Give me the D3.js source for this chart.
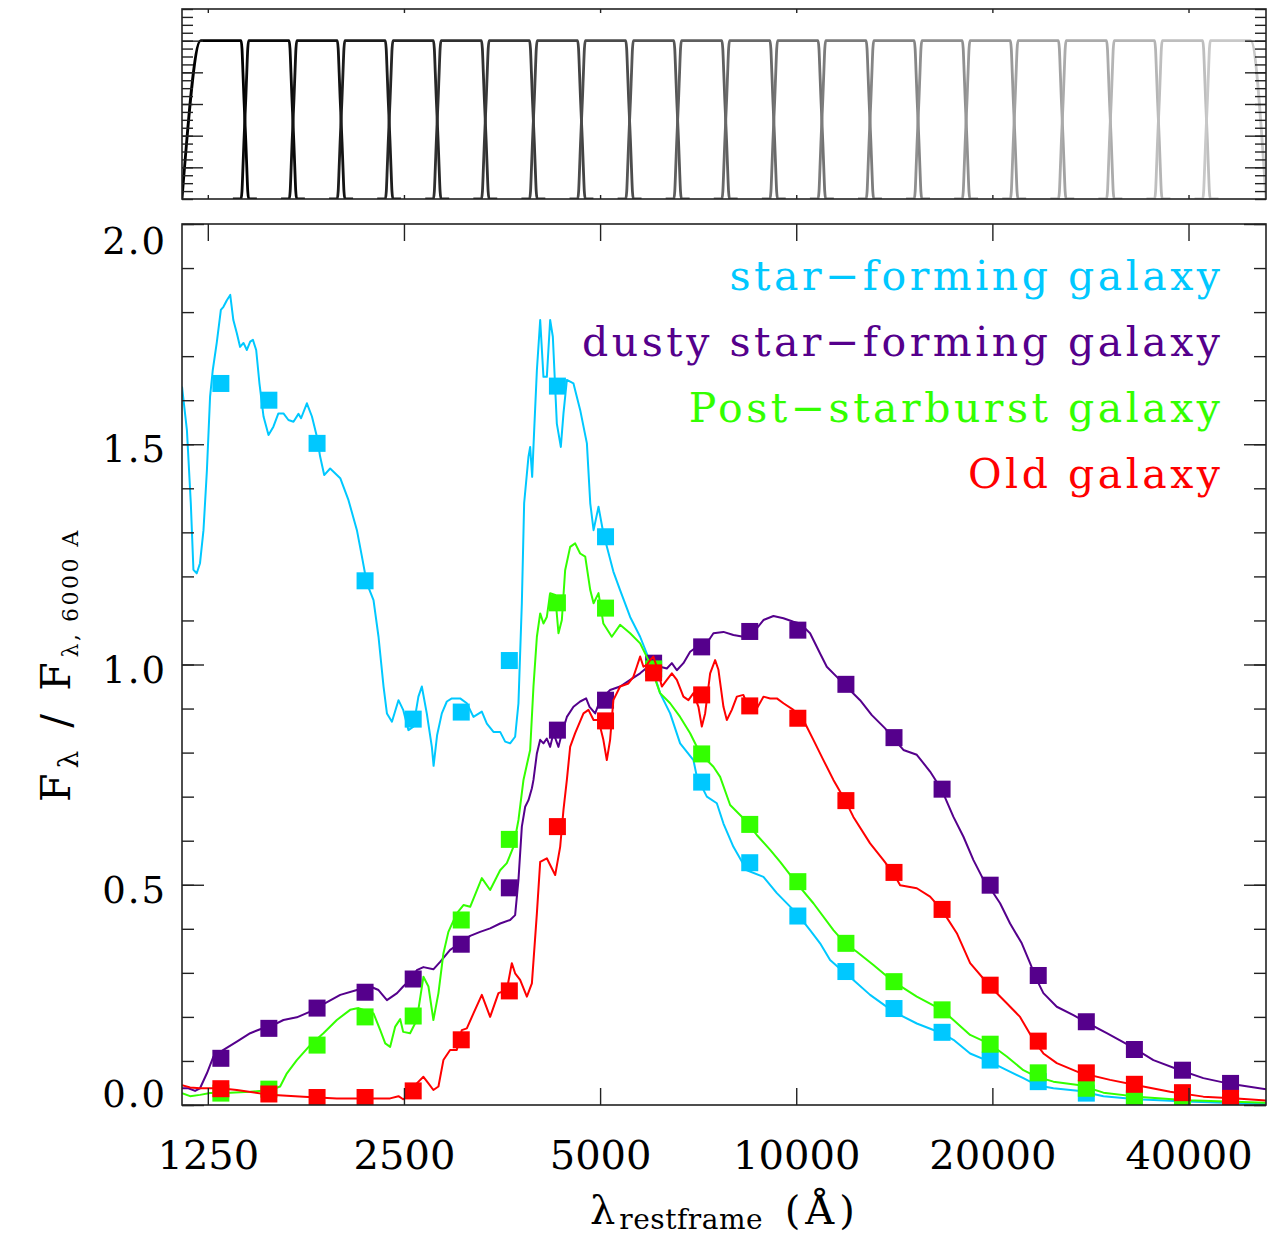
<!DOCTYPE html>
<html>
<head>
<meta charset="utf-8">
<script src="https://cdn.jsdelivr.net/npm/d3@7"></script>
<style>
  body { margin: 0; background: #fff; }
  svg { display: block; }
</style>
</head>
<body>
<svg id="vis"></svg>
<script>
// tick values
const wavelengthTicks = [1250, 2500, 5000, 10000, 20000, 40000];
const fluxMajorTicks = [0, 0.5, 1.0, 1.5, 2.0];
const fluxMinorTicks = d3.range(0, 2.001, 0.1);
const transMajorTicks = [0.2, 0.4, 0.6, 0.8, 1.0];
const transMinorTicks = d3.range(0, 1.201, 0.05);

// filter set (central wavelength, A)
const filterCenters = [1309, 1551, 1839, 2179, 2583, 3061, 3628, 4300, 5097, 6041, 7159,
  8485, 10057, 11919, 14127, 16743, 19844, 23519, 27875, 33037, 39156, 46407];
// transmission profile, offset in units of half the (log) filter spacing
const filterProfile = [[-1.5, 0], [-1.16, 0], [-1.12, 0.05], [-1.08, 0.2], [-1.04, 0.36], [-1, 0.5],
  [-0.96, 0.64], [-0.92, 0.8], [-0.88, 0.95], [-0.84, 1], [0.84, 1], [0.88, 0.95], [0.92, 0.8],
  [0.96, 0.64], [1, 0.5], [1.04, 0.36], [1.08, 0.2], [1.12, 0.05], [1.16, 0], [1.5, 0]];

// spectra [wavelength, F / F(6000)]
const starFormingSpec = [[1141,1.631],[1161,1.532],[1177,1.367],[1188,1.215],[1202,1.207],[1216,1.230],[1231,1.305],[1246,1.441],[1260,1.608],[1272,1.668],[1290,1.730],[1309,1.805],[1321,1.812],[1337,1.827],[1353,1.839],[1368,1.782],[1385,1.752],[1401,1.721],[1418,1.730],[1435,1.714],[1452,1.733],[1466,1.737],[1483,1.714],[1500,1.639],[1522,1.563],[1549,1.521],[1576,1.540],[1604,1.570],[1633,1.570],[1662,1.555],[1692,1.551],[1722,1.569],[1738,1.559],[1774,1.593],[1806,1.563],[1838,1.517],[1859,1.472],[1886,1.430],[1926,1.445],[1996,1.423],[2055,1.373],[2117,1.305],[2155,1.245],[2193,1.184],[2245,1.146],[2285,1.063],[2326,0.950],[2354,0.889],[2396,0.870],[2452,0.919],[2493,0.897],[2540,0.851],[2585,0.859],[2631,0.927],[2663,0.950],[2710,0.889],[2759,0.813],[2776,0.770],[2811,0.840],[2858,0.889],[2909,0.916],[2961,0.923],[3049,0.923],[3122,0.912],[3196,0.881],[3292,0.893],[3351,0.866],[3430,0.847],[3512,0.847],[3575,0.825],[3638,0.821],[3703,0.836],[3747,0.912],[3792,1.139],[3823,1.366],[3882,1.472],[3905,1.494],[3933,1.426],[3961,1.532],[3999,1.668],[4046,1.782],[4093,1.653],[4142,1.653],[4191,1.782],[4231,1.744],[4291,1.547],[4352,1.494],[4393,1.570],[4446,1.646],[4551,1.638],[4660,1.578],[4772,1.502],[4829,1.366],[4886,1.305],[4972,1.358],[5058,1.298],[5240,1.211],[5366,1.169],[5560,1.108],[5760,1.063],[5966,1.006],[6181,0.935],[6404,0.889],[6634,0.821],[6954,0.783],[7039,0.745],[7291,0.700],[7553,0.685],[7732,0.639],[8009,0.586],[8398,0.533],[8906,0.518],[9338,0.481],[10019,0.435],[10501,0.397],[10880,0.367],[11271,0.329],[11884,0.299],[12238,0.284],[12983,0.250],[14100,0.212],[15313,0.185],[16729,0.163],[17429,0.148],[18489,0.117],[19844,0.098],[21044,0.079],[22316,0.061],[23398,0.045],[24814,0.038],[27270,0.032],[29612,0.020],[33322,0.013],[39766,0.008],[47440,0.004],[52600,0.002]];

const dustySpec = [[1141,0.038],[1167,0.038],[1195,0.032],[1216,0.038],[1246,0.072],[1275,0.110],[1321,0.125],[1385,0.144],[1452,0.163],[1504,0.172],[1558,0.178],[1633,0.193],[1712,0.199],[1795,0.212],[1881,0.229],[1996,0.250],[2117,0.261],[2219,0.269],[2285,0.261],[2354,0.238],[2440,0.254],[2493,0.269],[2555,0.284],[2616,0.306],[2678,0.313],[2774,0.308],[2841,0.325],[2943,0.352],[3049,0.367],[3159,0.384],[3272,0.393],[3390,0.401],[3512,0.412],[3638,0.420],[3703,0.431],[3747,0.511],[3792,0.632],[3837,0.677],[3882,0.692],[3929,0.719],[3951,0.738],[3999,0.798],[4046,0.829],[4093,0.821],[4142,0.832],[4191,0.813],[4240,0.844],[4316,0.813],[4368,0.844],[4446,0.881],[4551,0.904],[4660,0.916],[4759,0.923],[4817,0.904],[4914,0.889],[5000,0.919],[5180,0.942],[5366,0.950],[5560,0.965],[5760,0.980],[5966,0.999],[6181,0.995],[6330,0.991],[6443,1.003],[6558,0.987],[6712,1.003],[6873,1.029],[7039,1.040],[7204,1.037],[7463,1.071],[7732,1.074],[8009,1.067],[8295,1.063],[8497,1.063],[8698,1.082],[8906,1.101],[9226,1.110],[9558,1.105],[9902,1.097],[10137,1.093],[10501,1.071],[10880,1.025],[11140,0.995],[11542,0.972],[11884,0.953],[12531,0.919],[13061,0.885],[13690,0.855],[14100,0.832],[14605,0.806],[15313,0.795],[16048,0.757],[16729,0.715],[17429,0.654],[18057,0.609],[18706,0.556],[19386,0.511],[19844,0.492],[20552,0.458],[21292,0.412],[22190,0.367],[22850,0.322],[23398,0.284],[23952,0.254],[25112,0.223],[26632,0.204],[27756,0.189],[29968,0.163],[32738,0.132],[35336,0.102],[38846,0.079],[42152,0.061],[46328,0.048],[52600,0.036]];

const postStarburstSpec = [[1141,0.027],[1174,0.020],[1216,0.023],[1260,0.027],[1353,0.028],[1452,0.030],[1558,0.034],[1614,0.042],[1653,0.072],[1712,0.102],[1795,0.136],[1881,0.163],[1972,0.193],[2067,0.216],[2129,0.220],[2245,0.208],[2299,0.170],[2340,0.140],[2381,0.132],[2424,0.178],[2467,0.195],[2493,0.166],[2555,0.163],[2616,0.193],[2678,0.291],[2726,0.269],[2774,0.193],[2824,0.254],[2874,0.344],[2925,0.393],[3013,0.435],[3085,0.454],[3159,0.450],[3292,0.515],[3390,0.488],[3512,0.533],[3596,0.549],[3681,0.586],[3747,0.647],[3814,0.738],[3905,0.806],[3951,0.950],[3999,1.063],[4046,1.116],[4093,1.093],[4142,1.108],[4191,1.162],[4266,1.158],[4316,1.071],[4368,1.101],[4419,1.214],[4498,1.267],[4578,1.275],[4660,1.252],[4744,1.245],[4829,1.169],[4886,1.139],[4972,1.162],[5058,1.093],[5211,1.063],[5366,1.090],[5560,1.071],[5760,1.048],[5931,1.010],[6181,0.935],[6404,0.912],[6634,0.881],[6873,0.844],[7121,0.798],[7463,0.768],[7642,0.745],[7917,0.681],[8295,0.651],[8698,0.613],[9120,0.579],[9448,0.552],[10019,0.503],[10625,0.458],[11404,0.397],[11884,0.367],[12387,0.348],[13136,0.318],[14100,0.280],[15313,0.246],[16729,0.216],[17429,0.193],[18489,0.159],[19844,0.138],[21044,0.110],[22316,0.079],[23398,0.064],[24814,0.053],[27270,0.045],[29612,0.028],[33322,0.019],[39766,0.011],[52600,0.005]];

const oldSpec = [[1141,0.045],[1174,0.040],[1216,0.038],[1306,0.038],[1385,0.034],[1558,0.023],[1753,0.019],[1972,0.015],[2219,0.015],[2381,0.015],[2452,0.020],[2493,0.013],[2555,0.023],[2616,0.049],[2678,0.064],[2726,0.049],[2774,0.034],[2824,0.042],[2874,0.102],[2943,0.125],[3013,0.125],[3067,0.170],[3122,0.174],[3196,0.208],[3292,0.250],[3390,0.200],[3491,0.254],[3596,0.261],[3660,0.322],[3703,0.299],[3769,0.284],[3860,0.246],[3929,0.276],[3999,0.435],[4046,0.552],[4142,0.560],[4191,0.545],[4266,0.522],[4342,0.586],[4393,0.670],[4446,0.738],[4498,0.813],[4578,0.844],[4715,0.889],[4799,0.897],[4886,0.874],[4972,0.874],[5058,0.829],[5120,0.783],[5180,0.829],[5240,0.919],[5366,0.950],[5526,0.957],[5624,0.972],[5692,0.995],[5760,1.018],[5828,0.995],[5898,0.999],[5966,1.010],[6036,1.018],[6109,0.995],[6219,0.950],[6330,0.965],[6443,0.980],[6558,0.965],[6712,0.927],[6832,0.919],[6954,0.935],[7078,0.904],[7163,0.859],[7247,0.889],[7377,0.980],[7508,1.010],[7596,0.988],[7732,0.904],[7825,0.874],[7964,0.897],[8107,0.927],[8295,0.931],[8497,0.893],[8648,0.893],[8906,0.927],[9120,0.923],[9338,0.923],[9558,0.912],[9902,0.897],[10256,0.874],[10625,0.829],[11008,0.783],[11404,0.738],[11884,0.692],[12238,0.654],[12983,0.594],[13609,0.556],[14100,0.526],[14436,0.499],[15313,0.492],[16048,0.473],[16729,0.443],[17639,0.390],[18489,0.322],[19844,0.269],[21044,0.231],[22056,0.200],[23120,0.148],[23952,0.117],[25112,0.095],[27270,0.073],[30316,0.057],[33322,0.045],[37484,0.030],[42152,0.019],[47440,0.015],[52600,0.010]];

// synthetic photometry in each filter
const starFormingPhot = [1.638, 1.600, 1.502, 1.190, 0.876, 0.892, 1.009, 1.632, 1.290, 0.990, 0.733, 0.550, 0.429, 0.303, 0.219, 0.165, 0.102, 0.053, 0.027, 0.012, 0.006, 0.003];
const dustyPhot = [0.106, 0.174, 0.220, 0.256, 0.286, 0.365, 0.493, 0.851, 0.919, 1.003, 1.040, 1.075, 1.078, 0.955, 0.834, 0.717, 0.499, 0.294, 0.189, 0.126, 0.079, 0.049];
const postStarburstPhot = [0.027, 0.036, 0.136, 0.200, 0.202, 0.420, 0.603, 1.140, 1.128, 0.990, 0.797, 0.637, 0.507, 0.367, 0.280, 0.216, 0.138, 0.073, 0.038, 0.015, 0.009, 0.005];
const oldPhot = [0.037, 0.025, 0.017, 0.017, 0.032, 0.148, 0.259, 0.632, 0.872, 0.981, 0.931, 0.906, 0.878, 0.691, 0.528, 0.444, 0.272, 0.145, 0.073, 0.047, 0.028, 0.015];

const legendLabels = ['star\u2212forming galaxy', 'dusty star\u2212forming galaxy', 'Post\u2212starburst galaxy', 'Old galaxy'];
const seriesColors = ['#00c8ff', '#55008c', '#33ff00', '#ff0000'];

const width = 1279, height = 1236;
const font = "'DejaVu Serif', 'Liberation Serif', serif";
const axisColor = '#222';

const svg = d3.select('#vis').attr('width', width).attr('height', height);

const x = d3.scaleLog().domain([1141, 52600]).range([182, 1266]);
const yTop = d3.scaleLinear().domain([0, 1.2]).range([199, 9]);
const y = d3.scaleLinear().domain([0, 2]).range([1105, 224]);

const defs = svg.append('defs');
defs.append('clipPath').attr('id', 'clipTop').append('rect')
  .attr('x', 182).attr('y', 9).attr('width', 1084).attr('height', 190);
defs.append('clipPath').attr('id', 'clipMain').append('rect')
  .attr('x', 182).attr('y', 224).attr('width', 1084).attr('height', 881);

// ---------- top panel: filter curves ----------
const logHalf = Math.log(filterCenters[1] / filterCenters[0]) / 2;
const grey = d3.interpolateRgb('#000000', '#c8c8c8');
const filterLine = d3.line().x(d => x(d[0])).y(d => yTop(d[1])).curve(d3.curveMonotoneX);
const topG = svg.append('g').attr('clip-path', 'url(#clipTop)');
filterCenters.forEach((c, i) => {
  let prof = filterProfile;
  if (i === 0) prof = [[null, 0]].concat(prof.filter(([u, t]) => !(u < 0 && t < 1)));
  if (i === filterCenters.length - 1) prof = prof.filter(([u, t]) => !(u > 0 && t < 1)).concat([[null, 0]]);
  const pts = prof.map(([u, t], j) => {
    if (u === null) return [j === 0 ? x.domain()[0] : x.domain()[1], t];
    return [c * Math.exp(u * logHalf), t];
  });
  topG.append('path').attr('d', filterLine(pts)).attr('fill', 'none')
    .attr('stroke', grey(i / (filterCenters.length - 1))).attr('stroke-width', 2.8)
    .attr('stroke-linejoin', 'round');
});

function cleanAxis(g) {
  g.select('.domain').remove();
  g.selectAll('line').attr('stroke', axisColor).attr('stroke-width', 1.4);
}

// top panel axes
svg.append('g').attr('transform', 'translate(182,0)')
  .call(d3.axisLeft(yTop).tickValues(transMinorTicks).tickSizeInner(-11).tickSizeOuter(0).tickFormat(''))
  .call(cleanAxis);
svg.append('g').attr('transform', 'translate(182,0)')
  .call(d3.axisLeft(yTop).tickValues(transMajorTicks).tickSizeInner(-21).tickSizeOuter(0).tickFormat(''))
  .call(cleanAxis);
svg.append('g').attr('transform', 'translate(1266,0)')
  .call(d3.axisRight(yTop).tickValues(transMinorTicks).tickSizeInner(-11).tickSizeOuter(0).tickFormat(''))
  .call(cleanAxis);
svg.append('g').attr('transform', 'translate(1266,0)')
  .call(d3.axisRight(yTop).tickValues(transMajorTicks).tickSizeInner(-21).tickSizeOuter(0).tickFormat(''))
  .call(cleanAxis);
svg.append('g').attr('transform', 'translate(0,9)')
  .call(d3.axisTop(x).tickValues(wavelengthTicks).tickSizeInner(-4).tickSizeOuter(0).tickFormat(''))
  .call(cleanAxis);
svg.append('g').attr('transform', 'translate(0,199)')
  .call(d3.axisBottom(x).tickValues(wavelengthTicks).tickSizeInner(-4).tickSizeOuter(0).tickFormat(''))
  .call(cleanAxis);
svg.append('rect').attr('x', 182).attr('y', 9).attr('width', 1084).attr('height', 190)
  .attr('fill', 'none').attr('stroke', axisColor).attr('stroke-width', 1.6);

// ---------- main panel ----------
const main = svg.append('g').attr('clip-path', 'url(#clipMain)');
const specLine = d3.line().x(d => x(d[0])).y(d => y(d[1]));
const series = [
  {spec: starFormingSpec, phot: starFormingPhot, color: seriesColors[0]},
  {spec: dustySpec, phot: dustyPhot, color: seriesColors[1]},
  {spec: postStarburstSpec, phot: postStarburstPhot, color: seriesColors[2]},
  {spec: oldSpec, phot: oldPhot, color: seriesColors[3]}
];
const sq = 17;
series.forEach(s => {
  main.append('path').attr('d', specLine(s.spec)).attr('fill', 'none')
    .attr('stroke', s.color).attr('stroke-width', 2).attr('stroke-linejoin', 'round');
  main.selectAll(null).data(s.phot).enter().append('rect')
    .attr('x', (d, i) => x(filterCenters[i]) - sq / 2)
    .attr('y', d => y(d) - sq / 2)
    .attr('width', sq).attr('height', sq)
    .attr('fill', s.color);
});

// main axes: ticks
svg.append('g').attr('transform', 'translate(182,0)')
  .call(d3.axisLeft(y).tickValues(fluxMinorTicks).tickSizeInner(-12).tickSizeOuter(0).tickFormat(''))
  .call(cleanAxis);
svg.append('g').attr('transform', 'translate(1266,0)')
  .call(d3.axisRight(y).tickValues(fluxMinorTicks).tickSizeInner(-12).tickSizeOuter(0).tickFormat(''))
  .call(cleanAxis);
svg.append('g').attr('transform', 'translate(1266,0)')
  .call(d3.axisRight(y).tickValues(fluxMajorTicks).tickSizeInner(-22).tickSizeOuter(0).tickFormat(''))
  .call(cleanAxis);
svg.append('g').attr('transform', 'translate(0,224)')
  .call(d3.axisTop(x).tickValues(wavelengthTicks).tickSizeInner(-17).tickSizeOuter(0).tickFormat(''))
  .call(cleanAxis);

// left axis with labels
const lsY = 2;
const yLabelShift = {0: -16.5, 2: 11.5};
svg.append('g').attr('transform', 'translate(182,0)')
  .call(d3.axisLeft(y).tickValues(fluxMajorTicks).tickSizeInner(-22).tickSizeOuter(0)
    .tickPadding(17 - lsY).tickFormat(d3.format('.1f')))
  .call(cleanAxis)
  .call(g => g.selectAll('text')
    .attr('dy', null)
    .attr('y', d => 17.5 + (yLabelShift[d] || 0))
    .attr('fill', '#000')
    .style('font-family', font).style('font-size', '37px').style('letter-spacing', lsY + 'px'));

// bottom axis with labels
svg.append('g').attr('transform', 'translate(0,1105)')
  .call(d3.axisBottom(x).tickValues(wavelengthTicks).tickSizeInner(-17).tickSizeOuter(0)
    .tickFormat(d3.format('d')))
  .call(cleanAxis)
  .call(g => g.selectAll('text')
    .attr('dy', null).attr('y', 64)
    .attr('fill', '#000')
    .style('font-family', font).style('font-size', '40px'));

svg.append('rect').attr('x', 182).attr('y', 224).attr('width', 1084).attr('height', 881)
  .attr('fill', 'none').attr('stroke', axisColor).attr('stroke-width', 1.6);

// legend
svg.append('g').selectAll('text').data(legendLabels).enter().append('text')
  .attr('x', 1220 + 3.5).attr('y', (d, i) => 290 + i * 66)
  .attr('text-anchor', 'end')
  .attr('fill', (d, i) => seriesColors[i])
  .style('font-family', font).style('font-size', '41px').style('letter-spacing', '3.5px')
  .text(d => d);

// x title
const xTitle = svg.append('text').attr('x', 590).attr('y', 1224)
  .style('font-family', font).style('font-size', '40px');
xTitle.append('tspan').text('\u03bb');
xTitle.append('tspan').attr('dx', 4).attr('dy', 5).style('font-size', '28px').style('letter-spacing', '0.5px').text('restframe');
xTitle.append('tspan').attr('dx', 4).attr('dy', -5).style('letter-spacing', '5px').text(' (\u00c5)');

// y title
const yTitle = svg.append('text').attr('transform', 'translate(70,665) rotate(-90)')
  .attr('text-anchor', 'middle')
  .style('font-family', font).style('font-size', '41px').style('letter-spacing', '5px');
yTitle.append('tspan').text('F');
yTitle.append('tspan').attr('dy', 8).style('font-size', '28px').text('\u03bb');
yTitle.append('tspan').attr('dy', -8).text(' / F');
yTitle.append('tspan').attr('dy', 8).style('font-size', '22px').style('letter-spacing', '2.5px').text('\u03bb, 6000 A');
</script>
</body>
</html>
